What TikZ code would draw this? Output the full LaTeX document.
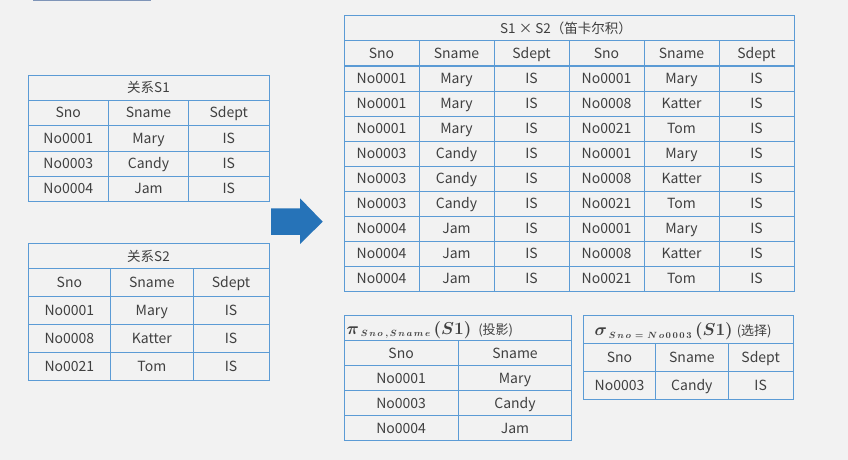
\documentclass[tikz,border=0pt]{standalone}
\usepackage{amsmath}
\usepackage{bm}
\usepackage{fontspec}
\setmainfont{Noto Sans CJK SC}
\definecolor{bgc}{HTML}{F2F2F2}
\definecolor{linec}{HTML}{5B9BD5}
\definecolor{txtc}{HTML}{404040}
\definecolor{arrc}{HTML}{2673B8}
\definecolor{topc}{HTML}{7F95B8}
\newcommand{\subtxt}[1]{\hbox{\fontsize{9.5}{10}\selectfont$\bm{#1}$}}
\tikzset{
  grid/.style={draw=linec, line width=1pt},
  cell/.style={inner sep=0pt, text height=10pt, text depth=0pt, text=txtc, font=\fontsize{14}{16}\selectfont},
  ttl/.style={inner sep=0pt, text height=9.6pt, text depth=0pt, text=txtc, font=\fontsize{13.5}{15}\selectfont},
  mttl/.style={inner sep=0pt, anchor=base west, text=txtc, font=\fontsize{19}{20}\selectfont},
}
\begin{document}
\begin{tikzpicture}[x=1pt,y=-1pt]
\fill[bgc] (0,0) rectangle (848,460);
\useasboundingbox (0,0) rectangle (848,460);
% top bar
\fill[topc] (33,0) rectangle (151,1.3);

% ---------- S1 ----------
\draw[grid] (28,75) rectangle (269,201);
\foreach \y in {100,125,151,176} \draw[grid] (28,\y) -- (269,\y);
\foreach \x in {108.5,188.5} \draw[grid] (\x,100) -- (\x,201);
\node[ttl] (s1t) at (148.5,88) {关系S1};
\foreach \r/\y/\a/\b/\c in {0/112.5/Sno/Sname/Sdept,1/138/No0001/Mary/IS,2/163.5/No0003/Candy/IS,3/188.5/No0004/Jam/IS}{
  \node[cell] (s1-\r-a) at (68.25,\y) {\a};
  \node[cell] (s1-\r-b) at (148.5,\y) {\b};
  \node[cell] (s1-\r-c) at (228.75,\y) {\c};
}

% ---------- S2 ----------
\draw[grid] (28,243.5) rectangle (269,380);
\foreach \y in {268.7,296.3,324.3,352.3} \draw[grid] (28,\y) -- (269,\y);
\foreach \x in {110.7,193} \draw[grid] (\x,268.7) -- (\x,380);
\node[ttl] (s2t) at (148.5,256.6) {关系S2};
\foreach \r/\y/\a/\b/\c in {0/282.5/Sno/Sname/Sdept,1/310.3/No0001/Mary/IS,2/338.3/No0008/Katter/IS,3/366.2/No0021/Tom/IS}{
  \node[cell] (s2-\r-a) at (69.35,\y) {\a};
  \node[cell] (s2-\r-b) at (151.85,\y) {\b};
  \node[cell] (s2-\r-c) at (231,\y) {\c};
}

% ---------- arrow ----------
\fill[arrc] (271,208.3) -- (300,208.3) -- (300,198.3) -- (322.7,221.7) -- (300,244) -- (300,234.8) -- (271,234.8) -- cycle;

% ---------- product ----------
\draw[grid] (344,16) rectangle (794,291);
\foreach \k in {1,...,10} \draw[grid] (344,16+25*\k) -- (794,16+25*\k);
\foreach \k in {1,...,5} \draw[grid] (344+75*\k,41) -- (344+75*\k,291);
\node[ttl] (pt) at (566,28.8) {S1 × S2（笛卡尔积）};
\foreach \r/\a/\b/\c/\d/\e/\f in {0/Sno/Sname/Sdept/Sno/Sname/Sdept,
  1/No0001/Mary/IS/No0001/Mary/IS,
  2/No0001/Mary/IS/No0008/Katter/IS,
  3/No0001/Mary/IS/No0021/Tom/IS,
  4/No0003/Candy/IS/No0001/Mary/IS,
  5/No0003/Candy/IS/No0008/Katter/IS,
  6/No0003/Candy/IS/No0021/Tom/IS,
  7/No0004/Jam/IS/No0001/Mary/IS,
  8/No0004/Jam/IS/No0008/Katter/IS,
  9/No0004/Jam/IS/No0021/Tom/IS}{
  \node[cell] (p-\r-a) at (381.5,53.5+25*\r) {\a};
  \node[cell] (p-\r-b) at (456.5,53.5+25*\r) {\b};
  \node[cell] (p-\r-c) at (531.5,53.5+25*\r) {\c};
  \node[cell] (p-\r-d) at (606.5,53.5+25*\r) {\d};
  \node[cell] (p-\r-e) at (681.5,53.5+25*\r) {\e};
  \node[cell] (p-\r-f) at (756.5,53.5+25*\r) {\f};
}

% ---------- projection ----------
\draw[grid] (344,315.7) rectangle (571.7,440);
\foreach \y in {340.7,365.7,390.7,415.7} \draw[grid] (344,\y) -- (571.7,\y);
\draw[grid] (458.3,340.7) -- (458.3,440);
\node[mttl] (prt) at (346.5,334) {$\bm{\pi}_{\,\subtxt{S\,n\,o\;,S\,n\,a\,m\,e}}\,\bm{(S1)}$\hspace{7pt}{\fontsize{13}{14}\selectfont(投影)}};
\foreach \r/\y/\a/\b in {0/353.2/Sno/Sname,1/378.2/No0001/Mary,2/403.2/No0003/Candy,3/428/No0004/Jam}{
  \node[cell] (pr-\r-a) at (401.15,\y) {\a};
  \node[cell] (pr-\r-b) at (515,\y) {\b};
}

% ---------- selection ----------
\draw[grid] (583.3,315.7) rectangle (793.3,399);
\foreach \y in {343.3,371.7} \draw[grid] (583.3,\y) -- (793.3,\y);
\foreach \x in {655.7,728} \draw[grid] (\x,343.3) -- (\x,399);
\node[mttl] (st) at (594.5,335.5) {$\bm{\sigma}_{\,\subtxt{S\,n\,o\,=\,N\,o\,0\,0\,0\,3}}\,\bm{(S1)}$\hspace{4pt}{\fontsize{13}{14}\selectfont(选择)}};
\foreach \r/\y/\a/\b/\c in {0/357.5/Sno/Sname/Sdept,1/385.3/No0003/Candy/IS}{
  \node[cell] (se-\r-a) at (619.5,\y) {\a};
  \node[cell] (se-\r-b) at (691.85,\y) {\b};
  \node[cell] (se-\r-c) at (760.65,\y) {\c};
}
\end{tikzpicture}
\end{document}
